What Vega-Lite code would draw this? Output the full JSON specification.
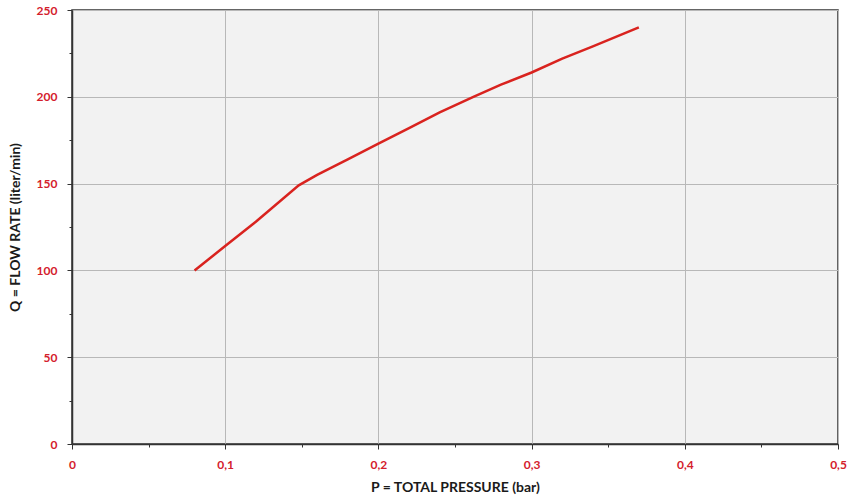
{
  "$schema": "https://vega.github.io/schema/vega-lite/v6.json",
  "width": 766,
  "height": 434,
  "autosize": "none",
  "padding": {"left": 72, "top": 10, "right": 11, "bottom": 53},
  "background": "white",
  "config": {
    "view": {"fill": "#f2f2f2", "stroke": "#333333", "strokeWidth": 1.5},
    "font": "Lato"
  },
  "data": {
    "values": [
      {"p": 0.08, "q": 100},
      {"p": 0.09, "q": 107},
      {"p": 0.10, "q": 114},
      {"p": 0.12, "q": 128},
      {"p": 0.148, "q": 149},
      {"p": 0.16, "q": 155},
      {"p": 0.18, "q": 164},
      {"p": 0.20, "q": 173},
      {"p": 0.22, "q": 182},
      {"p": 0.24, "q": 191},
      {"p": 0.262, "q": 200},
      {"p": 0.28, "q": 207},
      {"p": 0.30, "q": 214},
      {"p": 0.32, "q": 222},
      {"p": 0.34, "q": 229},
      {"p": 0.37, "q": 240}
    ]
  },
  "mark": {"type": "line", "color": "#d9231f", "strokeWidth": 2.5},
  "encoding": {
    "x": {
      "field": "p",
      "type": "quantitative",
      "scale": {"domain": [0, 0.5], "nice": false, "zero": true},
      "axis": {
        "title": "P = TOTAL PRESSURE (bar)",
        "titleFont": "Lato",
        "titleFontWeight": "bold",
        "titleFontSize": 14,
        "titleColor": "#1a1a1a",
        "titlePadding": 10,
        "values": [0, 0.05, 0.1, 0.15, 0.2, 0.25, 0.3, 0.35, 0.4, 0.45, 0.5],
        "labelExpr": "round(datum.value*20) % 2 == 1 ? '' : replace(format(datum.value, '.1~f'), '.', ',')",
        "labelColor": "#d4202c",
        "labelFont": "Lato",
        "labelFontWeight": "bold",
        "labelFontSize": 12,
        "labelPadding": 10,
        "labelFlush": false,
        "domainColor": "#333333",
        "domainWidth": 1.5,
        "tickColor": "#333333",
        "tickSize": {"condition": {"test": "round(datum.value*20) % 2 == 1", "value": 3}, "value": 5},
        "grid": true,
        "gridColor": "#b8b8b8",
        "gridOpacity": {"condition": {"test": "round(datum.value*20) % 2 == 1", "value": 0}, "value": 1},
        "gridWidth": 1
      }
    },
    "y": {
      "field": "q",
      "type": "quantitative",
      "scale": {"domain": [0, 250], "nice": false},
      "axis": {
        "title": "Q = FLOW RATE (liter/min)",
        "titleFont": "Lato",
        "titleFontWeight": "bold",
        "titleFontSize": 14,
        "titleColor": "#1a1a1a",
        "titlePadding": 14,
        "values": [0, 25, 50, 75, 100, 125, 150, 175, 200, 225, 250],
        "labelExpr": "datum.value % 50 != 0 ? '' : datum.label",
        "labelColor": "#d4202c",
        "labelFont": "Lato",
        "labelFontWeight": "bold",
        "labelFontSize": 12,
        "labelPadding": 10,
        "labelFlush": false,
        "domainColor": "#333333",
        "domainWidth": 1.5,
        "tickColor": "#333333",
        "tickSize": {"condition": {"test": "datum.value % 50 != 0", "value": 3}, "value": 5},
        "grid": true,
        "gridColor": "#b8b8b8",
        "gridOpacity": {"condition": {"test": "datum.value % 50 != 0", "value": 0}, "value": 1},
        "gridWidth": 1
      }
    }
  }
}
